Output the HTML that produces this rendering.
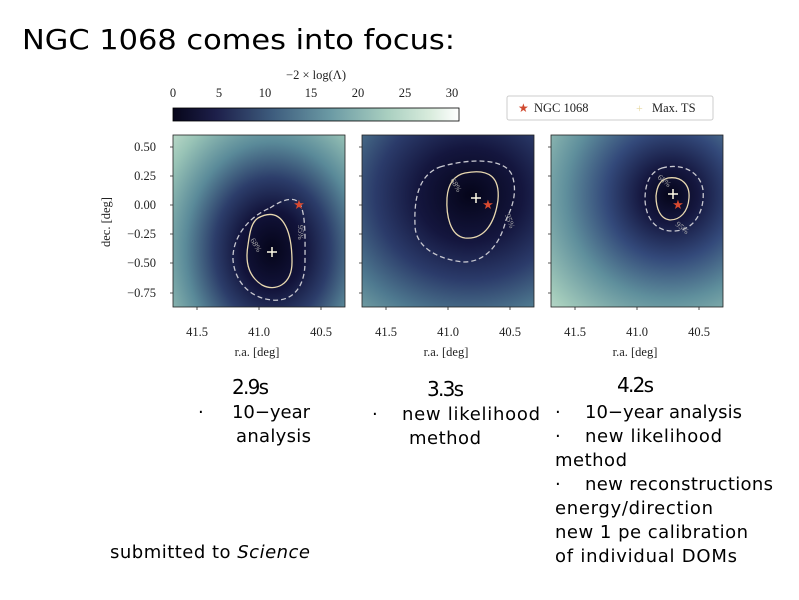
<!DOCTYPE html>
<html><head><meta charset="utf-8"><style>
body{margin:0;background:#fff;}
svg{display:block;}
.t{font-family:"DejaVu Sans","Liberation Sans",sans-serif;font-size:18px;fill:#000;}
.s{font-family:"Liberation Serif",serif;font-size:12.5px;fill:#222;}
</style></head><body>
<svg width="799" height="600" viewBox="0 0 799 600" xmlns="http://www.w3.org/2000/svg">
<defs>
<linearGradient id="cb" x1="0" x2="1" y1="0" y2="0">
<stop offset="0" stop-color="#07061a"/><stop offset="0.15" stop-color="#1d1f4a"/>
<stop offset="0.35" stop-color="#3e5d7e"/><stop offset="0.55" stop-color="#6b9aa4"/>
<stop offset="0.75" stop-color="#a9cfc0"/><stop offset="0.9" stop-color="#d9ecdd"/><stop offset="1" stop-color="#ffffff"/>
</linearGradient>
<radialGradient id="g1" gradientUnits="userSpaceOnUse" cx="272" cy="250" r="180" gradientTransform="translate(272 250) scale(0.8 1) translate(-272 -250)">
<stop offset="0" stop-color="#05051a"/><stop offset="0.22" stop-color="#12133a"/><stop offset="0.4" stop-color="#2c3d6a"/>
<stop offset="0.6" stop-color="#5a8a99"/><stop offset="0.82" stop-color="#98c3b6"/><stop offset="1" stop-color="#c8e2cf"/>
</radialGradient>
<radialGradient id="g2" gradientUnits="userSpaceOnUse" cx="470" cy="195" r="210" gradientTransform="translate(470 195) scale(1 0.9) translate(-470 -195)">
<stop offset="0" stop-color="#05051a"/><stop offset="0.25" stop-color="#14163e"/><stop offset="0.45" stop-color="#2b3b6a"/>
<stop offset="0.66" stop-color="#4f7a90"/><stop offset="0.88" stop-color="#86b3ad"/><stop offset="1" stop-color="#a9cdc0"/>
</radialGradient>
<radialGradient id="g3" gradientUnits="userSpaceOnUse" cx="670" cy="195" r="200">
<stop offset="0" stop-color="#05051a"/><stop offset="0.14" stop-color="#15173f"/><stop offset="0.32" stop-color="#33497a"/>
<stop offset="0.52" stop-color="#5f8f9c"/><stop offset="0.76" stop-color="#a3cbbb"/><stop offset="1" stop-color="#eef6ee"/>
</radialGradient>
</defs>
<text x="22" y="49" font-family="DejaVu Sans,Liberation Sans,sans-serif" font-size="28" textLength="433" lengthAdjust="spacingAndGlyphs">NGC 1068 comes into focus:</text>

<text x="316" y="79" class="s" text-anchor="middle">−2 × log(Λ)</text>
<g class="s" text-anchor="middle">
<text x="173" y="97">0</text><text x="219" y="97">5</text><text x="265" y="97">10</text><text x="311" y="97">15</text><text x="358" y="97">20</text><text x="405" y="97">25</text><text x="452" y="97">30</text>
</g>
<rect x="173" y="108" width="286" height="13" fill="url(#cb)" stroke="#000" stroke-width="0.8"/>
<rect x="507" y="96" width="206" height="24" fill="#fff" stroke="#ccc" rx="2"/>
<text x="518" y="112" fill="#d04a30" font-size="12">★</text><text x="534" y="112" class="s">NGC 1068</text>
<text x="636" y="112" fill="#e8d8a0" font-size="12">+</text><text x="652" y="112" class="s">Max. TS</text>

<rect x="173" y="135" width="172" height="172" fill="url(#g1)" stroke="#222" stroke-width="0.8"/>
<rect x="362" y="135" width="172" height="172" fill="url(#g2)" stroke="#222" stroke-width="0.8"/>
<rect x="551" y="135" width="172" height="172" fill="url(#g3)" stroke="#222" stroke-width="0.8"/>

<path d="M258 218 C282 205 292 230 292 262 C292 285 275 292 262 285 C248 276 245 262 248 245 C250 230 252 222 258 218Z" fill="none" stroke="#e8d8b0" stroke-width="1.3"/>
<path d="M270 208 C283 199 295 196 300 204 C306 215 305 240 305 262 C305 290 290 302 272 300 C250 298 235 282 233 260 C232 238 248 217 270 208Z" fill="none" stroke="#c8c8d0" stroke-width="1.3" stroke-dasharray="5,3"/>
<path d="M465 173 C490 168 500 178 498 200 C495 222 485 240 465 238 C450 236 446 215 447 198 C448 183 455 175 465 173Z" fill="none" stroke="#e8d8b0" stroke-width="1.3"/>
<path d="M440 167 C470 158 505 158 512 175 C518 192 512 208 506 220 C500 245 485 262 464 262 C440 260 415 248 415 225 C414 200 418 175 440 167Z" fill="none" stroke="#c8c8d0" stroke-width="1.3" stroke-dasharray="5,3"/>
<path d="M668 178 C682 176 690 185 689 198 C688 212 680 220 670 220 C660 219 656 208 656 196 C657 186 660 180 668 178Z" fill="none" stroke="#e8d8b0" stroke-width="1.3"/>
<path d="M662 168 C680 163 700 170 703 190 C705 210 695 230 675 231 C655 232 646 218 645 200 C645 183 650 172 662 168Z" fill="none" stroke="#c8c8d0" stroke-width="1.3" stroke-dasharray="5,3"/>

<g font-family="Liberation Serif,serif" font-size="8" fill="#aaa">
<text x="250" y="240" transform="rotate(60 250 240)">68%</text>
<text x="298" y="225" transform="rotate(90 298 225)">95%</text>
<text x="450" y="180" transform="rotate(60 450 180)">68%</text>
<text x="505" y="215" transform="rotate(70 505 215)">95%</text>
<text x="657" y="178" transform="rotate(40 657 178)">68%</text>
<text x="675" y="225" transform="rotate(40 675 225)">95%</text>
</g>

<g fill="#d94a30" font-size="13" text-anchor="middle">
<text x="299" y="209">★</text><text x="488" y="209">★</text><text x="678" y="209">★</text>
</g>
<g stroke="#fffbe6" stroke-width="1.5">
<path d="M267 252h10M272 247v10"/><path d="M471 198h10M476 193v10"/><path d="M668 194h10M673 189v10"/>
</g>

<g stroke="#222" stroke-width="0.8">
<path d="M170 147h3M170 176h3M170 205h3M170 234h3M170 263h3M170 293h3"/>
<path d="M359 147h3M359 176h3M359 205h3M359 234h3M359 263h3M359 293h3"/>
<path d="M548 147h3M548 176h3M548 205h3M548 234h3M548 263h3M548 293h3"/>
<path d="M197 307v3M259 307v3M321 307v3M386 307v3M448 307v3M510 307v3M575 307v3M637 307v3M699 307v3"/>
</g>
<g class="s" text-anchor="end">
<text x="156" y="151">0.50</text><text x="156" y="180">0.25</text><text x="156" y="209">0.00</text>
<text x="156" y="238">−0.25</text><text x="156" y="267">−0.50</text><text x="156" y="297">−0.75</text>
</g>
<text x="110" y="222" class="s" text-anchor="middle" transform="rotate(-90 110 222)">dec. [deg]</text>
<g class="s" text-anchor="middle">
<text x="197" y="336">41.5</text><text x="259" y="336">41.0</text><text x="321" y="336">40.5</text>
<text x="386" y="336">41.5</text><text x="448" y="336">41.0</text><text x="510" y="336">40.5</text>
<text x="575" y="336">41.5</text><text x="637" y="336">41.0</text><text x="699" y="336">40.5</text>
<text x="257" y="356">r.a. [deg]</text><text x="446" y="356">r.a. [deg]</text><text x="635" y="356">r.a. [deg]</text>
</g>

<g class="t" lengthAdjust="spacingAndGlyphs">
<text x="232" y="394" font-size="20" textLength="37">2.9s</text>
<text x="427" y="396" font-size="20" textLength="37">3.3s</text>
<text x="617" y="392" font-size="20" textLength="37">4.2s</text>
<text x="198" y="418">·</text><text x="232" y="418" textLength="78">10−year</text>
<text x="236" y="442" textLength="75">analysis</text>
<text x="372" y="420">·</text><text x="402" y="420" textLength="138">new likelihood</text>
<text x="409" y="444" textLength="72">method</text>
<text x="555" y="418">·</text><text x="585" y="418" textLength="157">10−year analysis</text>
<text x="555" y="442">·</text><text x="585" y="442" textLength="137">new likelihood</text>
<text x="555" y="466" textLength="72">method</text>
<text x="555" y="490">·</text><text x="585" y="490" textLength="188">new reconstructions</text>
<text x="555" y="514" textLength="158">energy/direction</text>
<text x="555" y="538" textLength="193">new 1 pe calibration</text>
<text x="555" y="562" textLength="182">of individual DOMs</text>
<text x="110" y="558" textLength="200">submitted to <tspan font-style="italic">Science</tspan></text>
</g>
</svg>
</body></html>
